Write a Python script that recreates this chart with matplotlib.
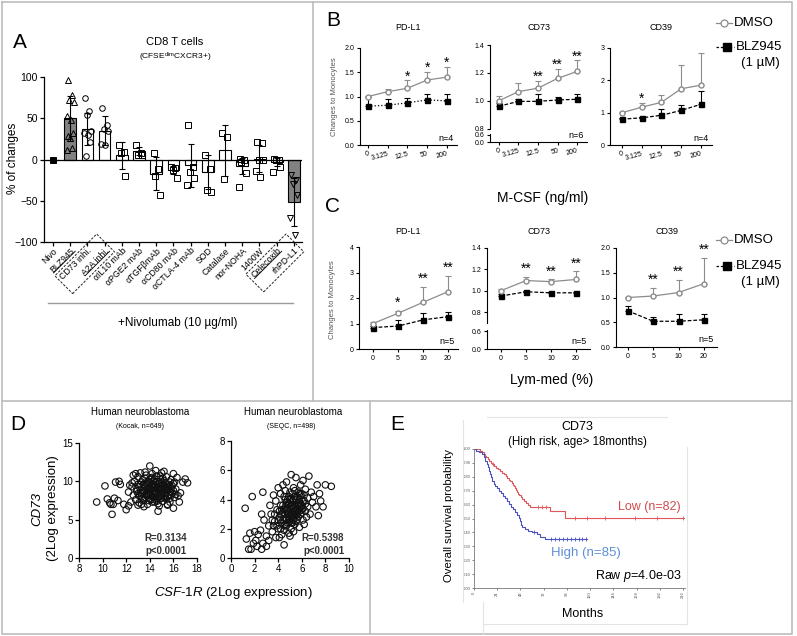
import numpy as np
import matplotlib
matplotlib.use('Agg')
import matplotlib.pyplot as plt
import matplotlib.transforms as mtransforms
from matplotlib.lines import Line2D
from matplotlib.patches import Rectangle
from matplotlib.ticker import FormatStrFormatter

plt.rcParams['font.family'] = ['Liberation Sans', 'DejaVu Sans']
plt.rcParams['mathtext.fontset'] = 'custom'
plt.rcParams['mathtext.rm'] = 'Liberation Sans'
plt.rcParams['mathtext.it'] = 'Liberation Sans:italic'
plt.rcParams['mathtext.bf'] = 'Liberation Sans:bold'

# ---------------- data ----------------
# A: CD8 T cells, % of changes
a_labels = ['Nivo', 'BLZ945', 'CD73 inhi.', 'A2A inhi.', 'αIL10 mAb', 'αPGE2 mAb',
            'αTGFβmAb', 'αCD80 mAb', 'αCTLA-4 mAb', 'SOD', 'Catalase', 'nor-NOHA',
            '1400W', 'Celecoxib', 'rhPD-L1']
a_means = [0, 50, 37, 35, 5, 10, -17, -13, -7, -15, 11, -8, 1, -3, -51]
a_sd = [0, 27, 19, 18, 16, 5, 20, 5, 26, 21, 31, 10, 16, 5, 29]
a_points = [
    [0],
    [96, 78, 72, 70, 53, 48, 32, 28, 26, 14, 12],
    [74, 59, 54, 34, 32, 30, 21, 4],
    [63, 42, 37, 35, 19, 17],
    [17, 9, 8, -20],
    [17, 8, 6, 5],
    [8, -12, -20, -43],
    [-9, -10, -13, -22],
    [42, -9, -15, -22, -31],
    [5, -12, -37, -39],
    [32, 27, -24],
    [1, 0, -3, -16, -33],
    [21, 20, 0, 0, -14, -21],
    [1, 0, -1, -9, -15],
    [-19, -25, -30, -43, -71, -91],
]
a_markers = ['s', '^', 'o', 'o', 's', 's', 's', 's', 's', 's', 's', 's', 's', 's', 'v']
a_fill = ['white', '#828282'] + ['white'] * 12 + ['#828282']

# B: M-CSF dose
b_doses = ['0', '3.125', '12.5', '50', '200']
b_pdl1_dmso = [1.0, 1.1, 1.17, 1.34, 1.4]
b_pdl1_dmso_err = [0.02, 0.05, 0.16, 0.17, 0.21]
b_pdl1_blz = [0.8, 0.82, 0.87, 0.93, 0.91]
b_pdl1_blz_err = [0.2, 0.12, 0.1, 0.12, 0.15]
b_cd73_dmso = [1.0, 1.065, 1.09, 1.16, 1.21]
b_cd73_dmso_err = [0.035, 0.06, 0.05, 0.07, 0.08]
b_cd73_blz = [0.96, 0.995, 0.995, 1.005, 1.01]
b_cd73_blz_err = [0.02, 0.02, 0.05, 0.02, 0.035]
b_cd39_dmso = [1.0, 1.17, 1.32, 1.74, 1.85]
b_cd39_dmso_err = [0.03, 0.13, 0.22, 0.74, 1.0]
b_cd39_blz = [0.8, 0.84, 0.92, 1.07, 1.26]
b_cd39_blz_err = [0.02, 0.03, 0.18, 0.18, 0.41]
b_pdl1_stars = ['', '', '*', '*', '*']
b_cd73_stars = ['', '', '**', '**', '**']
b_cd39_stars = ['', '*', '', '', '']

# C: Lym-med %
c_pct = ['0', '5', '10', '20']
c_pdl1_dmso = [1.0, 1.4, 1.83, 2.25]
c_pdl1_dmso_err = [0.05, 0.1, 0.59, 0.63]
c_pdl1_blz = [0.84, 0.9, 1.14, 1.27]
c_pdl1_blz_err = [0.08, 0.25, 0.28, 0.2]
c_cd73_dmso = [1.0, 1.095, 1.085, 1.105]
c_cd73_dmso_err = [0.015, 0.03, 0.02, 0.075]
c_cd73_blz = [0.95, 0.99, 0.98, 0.98]
c_cd73_blz_err = [0.015, 0.01, 0.01, 0.01]
c_cd39_dmso = [1.0, 1.03, 1.1, 1.28]
c_cd39_dmso_err = [0.01, 0.16, 0.25, 0.52]
c_cd39_blz = [0.73, 0.52, 0.52, 0.55]
c_cd39_blz_err = [0.1, 0.08, 0.14, 0.11]
c_pdl1_stars = ['', '*', '**', '**']
c_cd73_stars = ['', '**', '**', '**']
c_cd39_stars = ['', '**', '**', '**']

# D: CSF-1R vs CD73 scatter (estimated from cloud)
kocak_xy = [
    (9.5, 7.3), (10.2, 9.4), (10.4, 7.7), (10.6, 7.2), (10.7, 7.0), (10.9, 7.0), (10.8, 5.7),
    (11.0, 7.8), (11.3, 7.5), (11.1, 9.9), (11.4, 10.0), (11.5, 9.6), (11.8, 7.0), (12.0, 6.3),
    (12.2, 6.8), (12.3, 9.5), (12.5, 9.8), (12.6, 10.8), (12.8, 11.0), (13.0, 10.6), (14.0, 12.0),
    (14.5, 11.4), (15.2, 11.3), (16.0, 6.5), (16.5, 7.3), (17.0, 10.3), (17.2, 9.8), (16.6, 8.5),
    (16.8, 9.9), (14.7, 6.1), (13.5, 6.7), (15.5, 7.0),
    (12.6, 8.2), (12.8, 7.6), (12.9, 9.0), (13.0, 8.4), (13.1, 7.2), (13.2, 9.6), (13.3, 8.0),
    (13.4, 8.8), (13.4, 10.2), (13.5, 7.5), (13.6, 9.3), (13.7, 8.3), (13.7, 10.8), (13.8, 7.0),
    (13.8, 9.0), (13.9, 8.6), (14.0, 9.8), (14.0, 7.8), (14.1, 10.4), (14.1, 8.2), (14.2, 9.2),
    (14.2, 7.3), (14.3, 8.8), (14.3, 10.0), (14.4, 8.0), (14.4, 9.5), (14.5, 7.6), (14.5, 8.6),
    (14.6, 10.7), (14.6, 9.1), (14.7, 8.2), (14.7, 7.1), (14.8, 9.7), (14.8, 8.8), (14.9, 7.8),
    (14.9, 10.3), (15.0, 9.0), (15.0, 8.3), (15.1, 9.5), (15.1, 7.4), (15.2, 8.7), (15.2, 10.1),
    (15.3, 8.0), (15.3, 9.2), (15.4, 10.6), (15.4, 7.7), (15.5, 8.9), (15.6, 9.6), (15.6, 8.2),
    (15.7, 7.3), (15.8, 9.1), (15.8, 10.2), (15.9, 8.5), (16.0, 9.7), (16.1, 7.9), (16.2, 9.0),
    (16.3, 10.5), (12.4, 7.3), (12.7, 10.0), (13.0, 6.9), (13.2, 11.1), (13.6, 11.2), (14.2, 11.0),
    (14.8, 6.8), (15.0, 11.1), (15.5, 6.9), (16.0, 11.0), (16.4, 8.1), (12.2, 8.6), (12.5, 9.3),
    (13.3, 7.0), (13.9, 9.4), (14.1, 8.9), (14.3, 9.6), (14.5, 9.9), (14.6, 8.4), (14.9, 9.3),
    (15.1, 8.6), (13.5, 8.5), (13.8, 8.1), (14.4, 7.3), (14.7, 9.5), (15.3, 9.8), (13.1, 8.1),
    (13.6, 7.9), (14.0, 8.5), (14.8, 8.0), (15.5, 9.3), (15.7, 8.7), (14.2, 10.5), (13.9, 10.0),
    (12.9, 8.7), (13.1, 9.3), (13.2, 8.5), (13.3, 9.9), (13.4, 7.7), (13.5, 9.6), (13.6, 8.7),
    (13.7, 9.8), (13.8, 8.4), (13.9, 7.5), (14.0, 9.1), (14.0, 10.3), (14.1, 7.6), (14.2, 8.5),
    (14.3, 7.9), (14.3, 9.3), (14.4, 10.3), (14.5, 8.3), (14.5, 9.3), (14.6, 7.8), (14.7, 8.9),
    (14.7, 10.0), (14.8, 9.1), (14.9, 8.5), (15.0, 7.8), (15.0, 9.8), (15.1, 8.9), (15.2, 7.9),
    (15.2, 9.4), (15.3, 8.4), (15.4, 9.0), (15.4, 9.6), (15.5, 8.0), (15.6, 8.9), (15.7, 9.9),
    (15.8, 8.2), (15.9, 9.4), (16.0, 8.8), (16.1, 9.9), (16.2, 8.3), (13.6, 10.4), (14.9, 10.7),
    (14.4, 8.6), (14.1, 9.5), (13.8, 9.6), (15.1, 10.4), (14.6, 7.4), (13.3, 8.4), (15.7, 7.8),
    (13.0, 9.6),
]
seqc_xy = [
    (1.2, 3.4), (1.3, 1.3), (1.5, 0.6), (1.6, 1.7), (1.7, 0.6), (1.8, 4.2), (1.9, 1.0), (2.0, 1.8),
    (2.1, 1.2), (2.2, 0.8), (2.3, 1.6), (2.5, 1.9), (2.6, 0.6), (2.7, 1.0), (2.6, 3.0), (2.8, 2.6),
    (2.7, 4.5), (3.0, 0.8), (3.0, 1.5), (3.2, 2.2), (3.2, 1.2), (3.4, 3.0), (3.5, 1.8), (3.6, 4.3),
    (3.7, 2.5), (3.8, 1.4), (3.9, 3.3), (4.0, 2.0), (4.0, 4.8), (4.1, 2.8), (4.2, 3.6), (4.3, 1.6),
    (4.3, 2.4), (4.4, 3.1), (4.5, 4.2), (4.5, 1.9), (4.6, 2.7), (4.6, 3.5), (4.7, 5.2), (4.7, 2.2),
    (4.8, 3.0), (4.8, 4.0), (4.9, 1.7), (4.9, 3.7), (5.0, 2.5), (5.0, 4.5), (5.0, 3.2), (5.1, 5.7),
    (5.1, 2.0), (5.2, 3.9), (5.2, 2.8), (5.3, 3.4), (5.3, 4.8), (5.4, 2.3), (5.4, 4.2), (5.5, 3.0),
    (5.5, 5.5), (5.6, 3.7), (5.6, 2.6), (5.7, 4.5), (5.7, 3.3), (5.8, 2.1), (5.8, 4.0), (5.9, 5.0),
    (5.9, 3.0), (6.0, 3.6), (6.0, 4.4), (6.1, 2.6), (6.1, 5.3), (6.2, 3.9), (6.3, 3.2), (6.3, 4.7),
    (6.4, 2.8), (6.5, 4.1), (6.5, 3.5), (6.6, 5.6), (6.7, 3.0), (6.8, 4.5), (6.9, 3.8), (7.0, 4.2),
    (7.2, 3.5), (7.3, 5.0), (7.5, 4.4), (7.6, 3.9), (7.8, 3.5), (8.0, 5.0), (8.5, 4.9), (7.4, 2.9),
    (3.3, 3.6), (3.6, 2.2), (4.1, 1.4), (4.4, 5.0), (5.3, 1.8), (4.2, 4.4), (3.8, 3.9), (6.2, 2.3),
    (5.0, 1.5), (4.5, 0.9), (4.6, 3.0), (4.9, 2.6), (5.1, 3.6), (5.2, 3.1), (5.4, 3.6), (5.6, 3.2),
    (5.5, 4.0), (4.8, 3.4), (5.0, 2.9), (5.3, 2.6), (5.7, 3.8), (5.9, 4.3), (4.4, 2.6), (4.7, 3.8),
    (5.2, 4.4), (6.0, 3.1), (4.3, 3.3), (5.8, 3.5), (4.6, 2.3), (5.1, 4.1),
    (4.2, 2.6), (4.3, 3.0), (4.4, 3.6), (4.5, 2.2), (4.5, 3.3), (4.6, 4.0), (4.7, 2.6), (4.7, 3.2),
    (4.8, 2.4), (4.8, 3.7), (4.9, 3.0), (4.9, 4.2), (5.0, 3.5), (5.0, 2.7), (5.1, 3.0), (5.1, 2.4),
    (5.2, 3.6), (5.2, 2.4), (5.3, 3.0), (5.3, 4.0), (5.4, 3.2), (5.4, 2.8), (5.5, 3.5), (5.5, 2.5),
    (5.6, 4.2), (5.6, 3.0), (5.7, 3.6), (5.7, 2.8), (5.8, 3.2), (5.8, 4.4), (5.9, 3.7), (6.0, 3.3),
    (6.1, 3.9), (6.1, 3.4), (6.2, 4.3), (4.1, 3.2), (4.0, 2.6), (3.9, 2.2), (4.2, 2.0), (5.0, 4.0),
    (5.4, 4.6), (6.3, 3.7), (4.6, 4.6), (3.7, 3.0), (3.5, 2.6),
]

# E: Kaplan-Meier (months, survival)
low_t = [0, 6, 8, 10, 11.5, 12.5, 14, 16, 17.5, 19, 21, 23, 25, 27, 29, 31, 33, 34.5, 36, 37.5,
         39, 40.5, 41.5, 42.5, 43.5, 44.5, 45.5, 47, 48.5, 50, 52, 54, 56, 58, 79, 94, 218]
low_s = [1.0, 0.988, 0.976, 0.963, 0.951, 0.939, 0.927, 0.915, 0.902, 0.89, 0.878, 0.866, 0.854,
         0.842, 0.829, 0.817, 0.805, 0.793, 0.78, 0.768, 0.756, 0.743, 0.731, 0.718, 0.705, 0.692,
         0.679, 0.666, 0.652, 0.638, 0.624, 0.61, 0.596, 0.582, 0.551, 0.505, 0.505]
low_cens_t = [20, 66, 70, 74, 104, 117, 135, 166, 189, 216]
low_cens_s = [0.89, 0.582, 0.582, 0.582, 0.505, 0.505, 0.505, 0.505, 0.505, 0.505]
high_t = [0, 2, 5, 8, 10, 11.5, 13, 14.5, 15.5, 16.5, 17.5, 19, 20.5, 22, 24, 26, 28, 30, 32,
          34, 36, 38, 40, 42, 44, 46, 47.5, 48.5, 50, 53, 56, 60, 65, 68, 73, 117]
high_s = [1.0, 0.988, 0.976, 0.964, 0.94, 0.917, 0.893, 0.869, 0.845, 0.821, 0.797, 0.773,
          0.749, 0.737, 0.72, 0.7, 0.68, 0.66, 0.645, 0.625, 0.605, 0.585, 0.565, 0.545, 0.525,
          0.505, 0.48, 0.455, 0.44, 0.425, 0.41, 0.4, 0.385, 0.37, 0.35, 0.35]
high_cens_t = [62, 80, 84, 88, 92, 96, 100, 104, 108, 112, 116]
high_cens_s = [0.4, 0.35, 0.35, 0.35, 0.35, 0.35, 0.35, 0.35, 0.35, 0.35, 0.35]
km_ticks = [0, 24, 48, 72, 96, 120, 144, 168, 192, 216]

# ---------------- figure ----------------
W, H = 797, 636
fig = plt.figure(figsize=(W / 100, H / 100), dpi=100)
GRID = '#bcbcbc'


def pax(x0, y0, x1, y1):
    return fig.add_axes([x0 / W, 1 - y1 / H, (x1 - x0) / W, (y1 - y0) / H])


def ftext(x, y, s, **kw):
    kw.setdefault('ha', 'center')
    kw.setdefault('va', 'center')
    return fig.text(x / W, 1 - y / H, s, **kw)


def fline(xs, ys, **kw):
    fig.add_artist(Line2D([v / W for v in xs], [1 - v / H for v in ys],
                          transform=fig.transFigure, **kw))


def text_size(s, fs):
    t = fig.text(0, 0, s, fontsize=fs)
    bb = t.get_window_extent(fig.canvas.get_renderer())
    t.remove()
    return bb.width, bb.height


def clean(ax, lw=0.8, size=5, length=2.5):
    for sp in ['top', 'right']:
        ax.spines[sp].set_visible(False)
    for sp in ['left', 'bottom']:
        ax.spines[sp].set_linewidth(lw)
    ax.tick_params(labelsize=size, length=length, width=lw, pad=1.5)


# panel frame lines
fline([1.5, 792, 792, 1.5, 1.5], [1.5, 1.5, 634, 634, 1.5], color=GRID, lw=1.2)
fline([313, 313], [1.5, 401], color=GRID, lw=1.2)
fline([1.5, 792], [401, 401], color=GRID, lw=1.2)
fline([370, 370], [401, 634], color=GRID, lw=1.2)

# ---------------- panel A ----------------
axA = pax(44, 77, 302, 242)
xa = np.arange(len(a_labels))
axA.bar(xa, a_means, width=0.68, color=a_fill, edgecolor='black', linewidth=0.8, zorder=2)
jitter = [-0.15, 0.12, -0.05, 0.2, -0.2, 0.05, 0.15, -0.1, 0.0, 0.1, -0.18, 0.18]
for i in xa:
    if a_sd[i] > 0:
        axA.errorbar(i, a_means[i], yerr=a_sd[i], fmt='none', ecolor='black',
                     elinewidth=0.8, capsize=2.5, capthick=0.8, zorder=3)
    pts = a_points[i]
    offs = np.array([jitter[k % len(jitter)] for k in range(len(pts))]) if len(pts) > 1 else np.zeros(1)
    filled = i == 0
    axA.plot(i + offs, pts, ls='none', marker=a_markers[i], ms=5 if filled else 4,
             mfc='black' if filled else 'none', mec='black', mew=0.7, zorder=4, clip_on=False)
axA.axhline(0, color='black', lw=0.9, zorder=3)
axA.set_xlim(-0.52, 14.47)
axA.set_ylim(-100, 100)
axA.set_yticks([-100, -50, 0, 50, 100])
axA.set_xticks(xa)
axA.set_xticklabels([])
clean(axA, lw=0.9, size=7.5, length=3)
ftext(13, 158, '% of changes', rotation=90, fontsize=8.5)

lab_fs = 6.3
lab_y = -0.025
anchors = []
for i, lab in enumerate(a_labels):
    axA.text(i, lab_y, lab, transform=axA.get_xaxis_transform(), rotation=45,
             rotation_mode='anchor', ha='right', va='top', fontsize=lab_fs)
    anchors.append(axA.get_xaxis_transform().transform((i, lab_y)))
step = anchors[1][0] - anchors[0][0]
s45 = step / np.sqrt(2)


def label_frame(i):
    return mtransforms.Affine2D().rotate_deg(45).translate(anchors[i][0], anchors[i][1])


for i in [1, 3, 13]:
    L, h = text_size(a_labels[i], lab_fs)
    fig.add_artist(Line2D([-L, 0], [-h + 1.8, -h + 1.8], transform=label_frame(i),
                          color='black', lw=0.6))
for i in [2, 13]:
    L1, h = text_size(a_labels[i], lab_fs)
    L2, _ = text_size(a_labels[i + 1], lab_fs)
    xl = min(-L2, -s45 - L1) - 3
    fig.add_artist(Rectangle((xl, -h - 2), 3 - xl, s45 + h + 4, transform=label_frame(i + 1),
                             fill=False, ec='#222222', lw=0.7, ls=(0, (2.5, 1.5))))

ftext(20, 42, 'A', fontsize=15)
ftext(175, 42, 'CD8 T cells', fontsize=8)
ftext(175, 57, r'(CFSE$^{\mathrm{dim}}$CXCR3+)', fontsize=6)
fline([48, 293], [303, 303], color='#9a9a9a', lw=1)
ftext(178, 323, '+Nivolumab (10 µg/ml)', fontsize=8.5)

# ---------------- panels B and C ----------------
DMSO_C = '#8c8c8c'


def line_panel(box, xlim, ylim, yticks, yfmt, xlabels, dmso, dmso_err, blz, blz_err, ls,
               stars, star_pad, nlab, title, title_y, xrot, lower=None, nfs=6.5):
    x0, y0, x1, y1 = box
    ax = pax(x0, y0, x1, y1)
    xs = np.arange(len(xlabels))
    zero = np.zeros(len(xs))
    ax.errorbar(xs, blz, yerr=[zero, blz_err], color='black', ls=ls, lw=0.9, marker='s',
                ms=3.6, capsize=2, elinewidth=0.8, capthick=0.8, zorder=3)
    ax.errorbar(xs, dmso, yerr=[zero, dmso_err], color=DMSO_C, lw=0.9, marker='o', ms=3.6,
                mfc='white', mec=DMSO_C, capsize=2, elinewidth=0.8, capthick=0.8, zorder=4)
    for i, s in enumerate(stars):
        if s:
            ax.annotate(s, (i, dmso[i] + dmso_err[i]), xytext=(0, star_pad),
                        textcoords='offset points', ha='center', va='baseline',
                        fontsize=10, annotation_clip=False)
    ax.set_xlim(xlim)
    ax.set_ylim(ylim)
    ax.set_yticks(yticks)
    ax.yaxis.set_major_formatter(FormatStrFormatter(yfmt))
    clean(ax)
    xax = ax
    ybot = y1
    if lower is not None:
        ly0, ly1 = lower
        axl = pax(x0, ly0, x1, ly1)
        axl.set_xlim(xlim)
        axl.set_ylim(0, 0.65)
        axl.set_yticks([0, 0.6])
        axl.yaxis.set_major_formatter(FormatStrFormatter('%.1f'))
        clean(axl)
        ax.spines['bottom'].set_visible(False)
        ax.tick_params(axis='x', bottom=False, labelbottom=False)
        xax = axl
        ybot = ly1
    xax.set_xticks(xs)
    if xrot:
        xax.set_xticklabels(xlabels, rotation=xrot, ha='right', rotation_mode='anchor')
    else:
        xax.set_xticklabels(xlabels)
    ftext(x1 - 3, ybot - 7, nlab, ha='right', fontsize=nfs)
    ftext((x0 + x1) / 2, title_y, title, fontsize=6.5)
    return ax


# B
line_panel((360, 48, 457, 145), (-0.405, 4.51), (0, 2.0), [0, 0.5, 1.0, 1.5, 2.0], '%.1f',
           b_doses, b_pdl1_dmso, b_pdl1_dmso_err, b_pdl1_blz, b_pdl1_blz_err, ':',
           b_pdl1_stars, 0, 'n=4', 'PD-L1', 27, 15)
line_panel((490, 45, 587, 128.5), (-0.46, 4.51), (0.8, 1.4), [0.8, 1.0, 1.2, 1.4], '%.1f',
           b_doses, b_cd73_dmso, b_cd73_dmso_err, b_cd73_blz, b_cd73_blz_err, (0, (3, 1.5)),
           b_cd73_stars, 0, 'n=6', 'CD73', 27, 15, lower=(134, 142))
line_panel((610, 48, 712, 145), (-0.61, 4.56), (0, 3), [0, 1, 2, 3], '%d',
           b_doses, b_cd39_dmso, b_cd39_dmso_err, b_cd39_blz, b_cd39_blz_err, (0, (3, 1.5)),
           b_cd39_stars, 0, 'n=4', 'CD39', 27, 15)
ftext(335, 97, 'Changes to Monocytes', rotation=90, fontsize=5.5, color='#555555')
ftext(333, 20, 'B', fontsize=15)
ftext(543, 198, 'M-CSF (ng/ml)', fontsize=10)

# C
line_panel((359, 247, 458, 349), (-0.56, 3.4), (0, 4), [0, 1, 2, 3, 4], '%d',
           c_pct, c_pdl1_dmso, c_pdl1_dmso_err, c_pdl1_blz, c_pdl1_blz_err, (0, (3, 1.5)),
           c_pdl1_stars, 3, 'n=5', 'PD-L1', 232, 0)
line_panel((487, 248, 590, 322.7), (-0.56, 3.56), (0.7, 1.4), [0.8, 1.0, 1.2, 1.4], '%.1f',
           c_pct, c_cd73_dmso, c_cd73_dmso_err, c_cd73_blz, c_cd73_blz_err, (0, (3, 1.5)),
           c_cd73_stars, 3, 'n=5', 'CD73', 232, 0, lower=(330, 349))
line_panel((616, 248, 717, 347), (-0.47, 3.52), (0, 2.0), [0, 0.5, 1.0, 1.5, 2.0], '%.1f',
           c_pct, c_cd39_dmso, c_cd39_dmso_err, c_cd39_blz, c_cd39_blz_err, (0, (3, 1.5)),
           c_cd39_stars, 3, 'n=5', 'CD39', 232, 0)
ftext(333, 300, 'Changes to Monocytes', rotation=90, fontsize=5.5, color='#555555')
ftext(333, 207, 'C', fontsize=15)
ftext(552, 380, 'Lym-med (%)', fontsize=10)

# legends for B and C
for ly in [(23, 47, 63), (240, 266, 282)]:
    fline([716, 732], [ly[0], ly[0]], color=DMSO_C, lw=0.9)
    fig.add_artist(Line2D([724 / W], [1 - ly[0] / H], transform=fig.transFigure, marker='o',
                          ms=5, mfc='white', mec=DMSO_C, mew=0.9, ls='none'))
    ftext(734, ly[0], 'DMSO', ha='left', fontsize=9.5)
    fline([716, 734], [ly[1], ly[1]], color='black', lw=0.9, ls=(0, (2, 1.5)))
    fig.add_artist(Line2D([727 / W], [1 - ly[1] / H], transform=fig.transFigure, marker='s',
                          ms=5.5, color='black', ls='none'))
    ftext(736, ly[1], 'BLZ945', ha='left', fontsize=9.5)
    ftext(741, ly[2], '(1 µM)', ha='left', fontsize=9.5)

# ---------------- panel D ----------------
kx, ky = np.array(kocak_xy).T
sx, sy = np.array(seqc_xy).T
axD1 = pax(79, 443, 197, 558)
axD1.scatter(kx, ky, s=22, facecolors='none', edgecolors='#111111', linewidths=0.8, clip_on=False)
axD1.set_xlim(8, 18)
axD1.set_ylim(0, 15)
axD1.set_xticks([8, 10, 12, 14, 16, 18])
axD1.set_yticks([0, 5, 10, 15])
clean(axD1, lw=0.9, size=7, length=3)
axD2 = pax(231, 441, 349, 558)
axD2.scatter(sx, sy, s=22, facecolors='none', edgecolors='#111111', linewidths=0.8, clip_on=False)
axD2.set_xlim(0, 10)
axD2.set_ylim(0, 8)
axD2.set_xticks([0, 2, 4, 6, 8, 10])
axD2.set_yticks([0, 2, 4, 6, 8])
clean(axD2, lw=0.9, size=7, length=3)

ftext(18, 425, 'D', fontsize=15)
ftext(140, 412, 'Human neuroblastoma', fontsize=7)
ftext(140, 427, '(Kocak, n=649)', fontsize=5)
ftext(293, 412, 'Human neuroblastoma', fontsize=7)
ftext(291, 427, '(SEQC, n=498)', fontsize=5)
ftext(187, 538, 'R=0.3134', ha='right', fontsize=7, fontweight='bold', color='#333333')
ftext(187, 551, 'p<0.0001', ha='right', fontsize=7, fontweight='bold', color='#333333')
ftext(344, 538, 'R=0.5398', ha='right', fontsize=7, fontweight='bold', color='#333333')
ftext(345, 551, 'p<0.0001', ha='right', fontsize=7, fontweight='bold', color='#333333')
ftext(37, 509, 'CD73', rotation=90, fontsize=9.5, style='italic')
ftext(53, 508, '(2Log expression)', rotation=90, fontsize=9.5)
ftext(233, 593, r'$\mathit{CSF}$-$\mathit{1R}$ (2Log expression)', fontsize=9.5)

# ---------------- panel E ----------------
FAINT = '#e4e4e4'
fline([487, 667], [417, 417], color=FAINT, lw=0.8)
fline([463, 463], [420, 602], color=FAINT, lw=0.8)
fline([687, 687], [447, 624], color=FAINT, lw=0.8)
fline([483, 687], [624, 624], color=FAINT, lw=0.8)
fline([483, 483], [602, 634], color=FAINT, lw=0.8)

axE = pax(474, 449, 685, 588)
RED = '#e0575a'
BLUE = '#4a52c0'
axE.step(low_t, low_s, where='post', color=RED, lw=0.8)
axE.step(high_t, high_s, where='post', color=BLUE, lw=0.8)
axE.plot(low_cens_t, low_cens_s, ls='none', marker='|', ms=3, mew=0.6, color=RED)
axE.plot(high_cens_t, high_cens_s, ls='none', marker='|', ms=3, mew=0.6, color=BLUE)
axE.set_xlim(0, 218)
axE.set_ylim(0, 1.0)
axE.set_yticks(np.arange(0, 1.01, 0.1))
axE.yaxis.set_major_formatter(FormatStrFormatter('%.2f'))
axE.set_xticks(km_ticks)
axE.set_xticklabels([str(t) for t in km_ticks], rotation=90)
for sp in ['top', 'right']:
    axE.spines[sp].set_visible(False)
for sp in ['left', 'bottom']:
    axE.spines[sp].set_linewidth(0.6)
    axE.spines[sp].set_color('#777777')
axE.tick_params(labelsize=3, length=1.5, width=0.5, pad=1, colors='#555555')

ftext(397, 424, 'E', fontsize=15)
ftext(577, 427, 'CD73', fontsize=9)
ftext(577, 442, '(High risk, age> 18months)', fontsize=8.3)
ftext(681, 507, 'Low (n=82)', ha='right', fontsize=9, color='#d44a4a')
ftext(551, 553, 'High (n=85)', ha='left', fontsize=9.5, color='#5f8fd6')
ftext(682, 576, r'Raw $\mathit{p}$=4.0e-03', ha='right', fontsize=9)
ftext(583, 614, 'Months', fontsize=9)
ftext(449, 516, 'Overall survival probability', rotation=90, fontsize=8.2)

fig.savefig('out.png', dpi=100)
